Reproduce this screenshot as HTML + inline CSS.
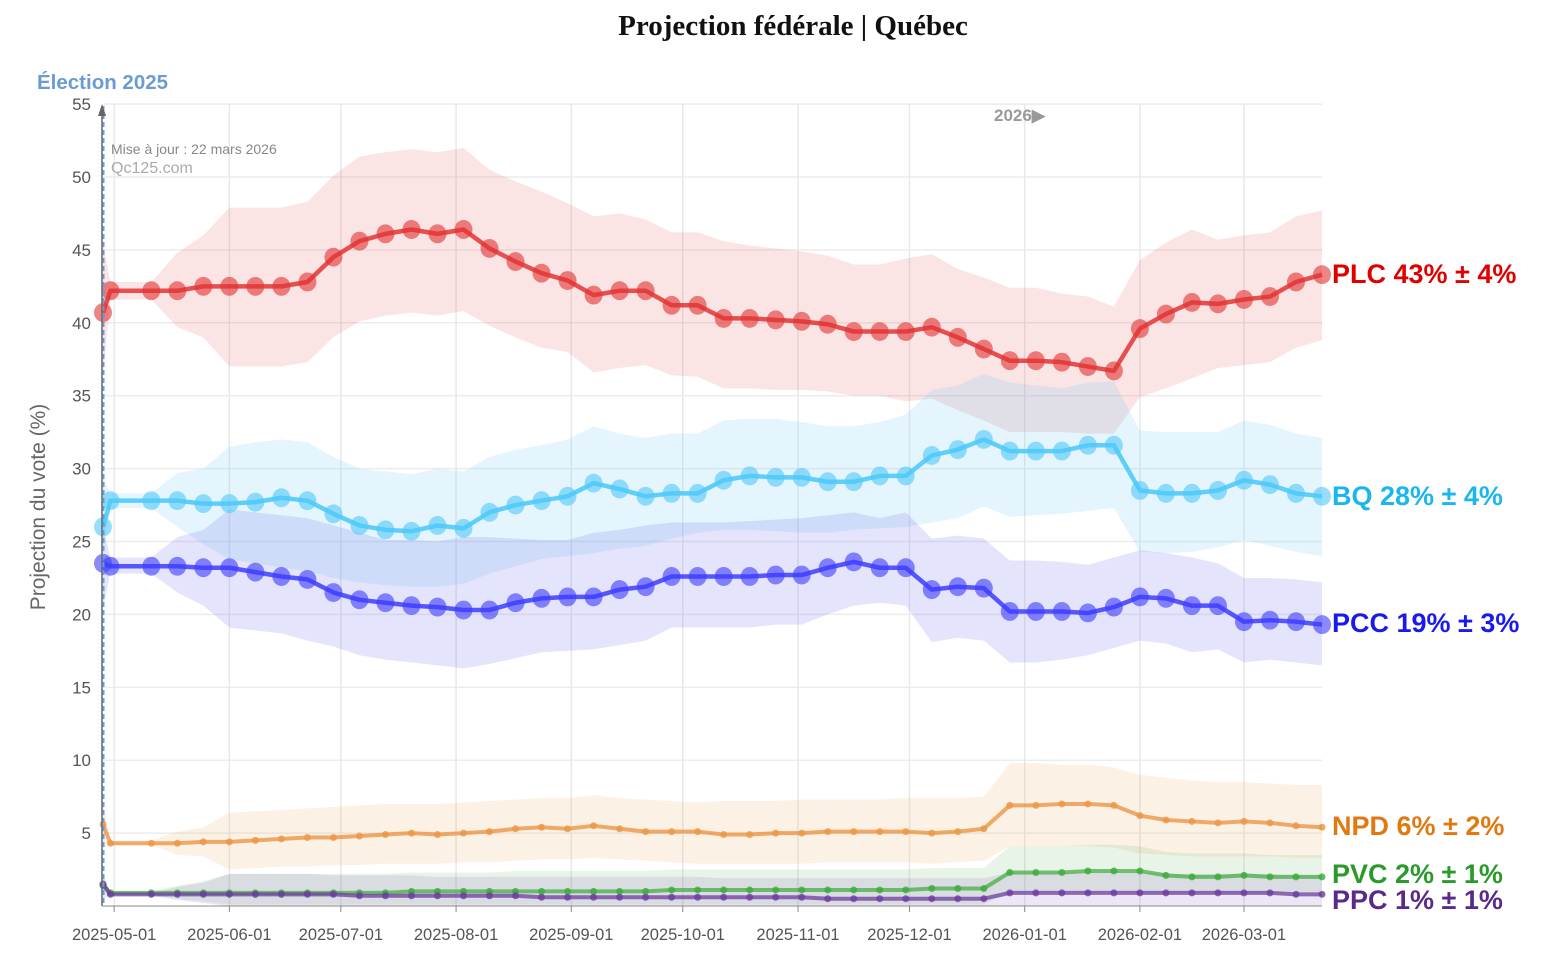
<!DOCTYPE html>
<html><head><meta charset="utf-8"><style>
body{margin:0;background:#fff;}
svg{display:block;font-family:"Liberation Sans",sans-serif;}
</style></head><body>
<svg id="chart" width="1541" height="958" viewBox="0 0 1541 958" xmlns="http://www.w3.org/2000/svg">
<text x="793" y="35" text-anchor="middle" font-family="Liberation Serif, serif" font-weight="bold" font-size="29" fill="#111">Projection fédérale | Québec</text>
<text x="37" y="89" font-weight="bold" font-size="20.5" fill="#6b9bd1">Élection 2025</text>
<g id="grid"></g>
<g id="bands"></g>
<g id="lines"></g>
<line x1="102" y1="108" x2="102" y2="906" stroke="#666" stroke-width="1.5"/>
<line x1="103.5" y1="106" x2="103.5" y2="906" stroke="#6b9bd1" stroke-width="2" stroke-dasharray="5,3"/>
<polygon points="98,116 102,104 106,116" fill="#666"/>
<line x1="102" y1="906" x2="1322" y2="906" stroke="#888" stroke-width="1"/>
<text x="994" y="121" font-weight="bold" font-size="17" fill="#999">2026▶</text>
<text x="111" y="154" font-size="14" fill="#888">Mise à jour : 22 mars 2026</text>
<text x="111" y="173" font-size="16" fill="#aaa">Qc125.com</text>
<text transform="translate(45,507) rotate(-90)" text-anchor="middle" font-size="21" fill="#666">Projection du vote (%)</text>
<g id="labels"></g>
</svg>
<script>
const days=[0,2,13,20,27,34,41,48,55,62,69,76,83,90,97,104,111,118,125,132,139,146,153,160,167,174,181,188,195,202,209,216,223,230,237,244,251,258,265,272,279,286,293,300,307,314,321,328];
const plc=[40.7,42.2,42.2,42.2,42.5,42.5,42.5,42.5,42.8,44.5,45.6,46.1,46.4,46.1,46.4,45.1,44.2,43.4,42.9,41.9,42.2,42.2,41.2,41.2,40.3,40.3,40.2,40.1,39.9,39.4,39.4,39.4,39.7,39.0,38.2,37.4,37.4,37.3,37.0,36.7,39.6,40.6,41.4,41.3,41.6,41.8,42.8,43.3];
const plcHi=[45.5,42.8,42.8,44.8,46.0,47.9,47.9,47.9,48.3,50.1,51.4,51.7,51.9,51.7,52.0,50.5,49.7,49.0,48.2,47.3,47.5,47.1,46.2,46.2,45.6,45.3,45.1,44.9,44.6,44.0,44.0,44.4,44.7,43.7,43.1,42.4,42.4,42.0,41.8,41.1,44.3,45.5,46.4,45.7,46.0,46.2,47.3,47.7];
const plcLo=[36.5,41.6,41.6,39.7,39.0,37.0,37.0,37.0,37.3,39.0,40.1,40.5,40.7,40.5,40.8,39.8,39.0,38.3,38.0,36.6,36.9,37.1,36.4,36.3,35.5,35.5,35.4,35.4,35.3,35.0,35.0,34.6,34.8,34.0,33.3,32.5,32.5,32.5,32.4,32.4,34.9,35.5,36.2,36.9,37.1,37.3,38.3,38.8];
const bq=[26.0,27.8,27.8,27.8,27.6,27.6,27.7,28.0,27.8,26.9,26.1,25.8,25.7,26.1,25.9,27.0,27.5,27.8,28.1,29.0,28.6,28.1,28.3,28.3,29.2,29.5,29.4,29.4,29.1,29.1,29.5,29.5,30.9,31.3,32.0,31.2,31.2,31.2,31.6,31.6,28.5,28.3,28.3,28.5,29.2,28.9,28.3,28.1];
const bqHi=[29.4,28.3,28.3,29.7,30.0,31.5,31.8,32.0,31.8,30.8,30.0,29.8,29.6,30.0,29.8,30.8,31.3,31.6,32.0,32.9,32.4,32.1,32.4,32.4,33.3,33.4,33.4,33.2,32.9,32.9,33.2,33.7,35.4,35.7,36.5,35.9,35.7,35.5,35.9,36.0,32.6,32.5,32.5,32.5,33.3,33.0,32.4,32.1];
const bqLo=[24.0,27.3,27.3,26.0,24.8,23.8,23.5,23.2,23.0,22.5,22.2,22.0,21.9,21.9,22.1,22.8,23.3,23.8,24.0,24.2,24.5,24.7,25.2,25.6,25.8,25.8,25.7,25.6,25.6,25.8,25.9,26.0,26.3,26.6,27.4,26.7,26.8,26.9,27.1,27.3,24.3,24.2,24.3,24.6,25.1,24.7,24.3,24.0];
const pcc=[23.5,23.3,23.3,23.3,23.2,23.2,22.9,22.6,22.4,21.5,21.0,20.8,20.6,20.5,20.3,20.3,20.8,21.1,21.2,21.2,21.7,21.9,22.6,22.6,22.6,22.6,22.7,22.7,23.2,23.6,23.2,23.2,21.7,21.9,21.8,20.2,20.2,20.2,20.1,20.5,21.2,21.1,20.6,20.6,19.5,19.6,19.5,19.3];
const pccHi=[26.0,23.9,23.9,25.3,25.8,27.2,27.0,26.8,26.6,26.1,25.6,25.1,25.1,25.0,25.3,25.3,25.2,25.1,25.1,25.6,25.8,26.1,26.3,26.3,26.3,26.4,26.5,26.6,26.8,27.0,26.6,27.0,25.2,25.4,25.2,23.7,23.7,23.6,23.4,23.9,24.4,24.2,23.9,23.5,22.5,22.5,22.4,22.2];
const pccLo=[20.5,22.8,22.8,21.5,20.6,19.1,18.9,18.7,18.2,17.8,17.2,16.9,16.7,16.5,16.3,16.6,17.0,17.4,17.5,17.6,17.9,18.2,19.1,19.1,19.1,19.1,19.3,19.3,20.0,20.6,20.8,20.6,18.1,18.4,18.2,16.7,16.7,16.9,17.2,17.7,18.2,18.0,17.4,17.6,16.7,16.9,16.7,16.5];
const npd=[5.6,4.3,4.3,4.3,4.4,4.4,4.5,4.6,4.7,4.7,4.8,4.9,5.0,4.9,5.0,5.1,5.3,5.4,5.3,5.5,5.3,5.1,5.1,5.1,4.9,4.9,5.0,5.0,5.1,5.1,5.1,5.1,5.0,5.1,5.3,6.9,6.9,7.0,7.0,6.9,6.2,5.9,5.8,5.7,5.8,5.7,5.5,5.4];
const npdHi=[7.0,4.5,4.5,5.1,5.4,6.4,6.5,6.6,6.7,6.8,6.9,7.0,7.0,7.0,7.1,7.2,7.3,7.4,7.4,7.6,7.4,7.3,7.2,7.1,7.2,7.2,7.2,7.3,7.3,7.3,7.3,7.4,7.4,7.4,7.5,9.8,9.8,9.7,9.7,9.5,9.0,8.8,8.6,8.5,8.5,8.4,8.3,8.3];
const npdLo=[4.0,4.2,4.2,3.5,3.4,2.5,2.6,2.7,2.7,2.8,2.8,2.9,2.9,2.9,3.0,3.0,3.1,3.2,3.2,3.3,3.2,3.1,3.0,2.9,2.9,2.9,2.9,2.9,3.0,3.0,3.0,3.0,2.9,3.0,3.1,4.1,4.1,4.1,4.1,4.0,3.6,3.5,3.4,3.4,3.4,3.4,3.3,3.3];
const pvc=[1.4,0.9,0.9,0.9,0.9,0.9,0.9,0.9,0.9,0.9,0.9,0.9,1.0,1.0,1.0,1.0,1.0,1.0,1.0,1.0,1.0,1.0,1.1,1.1,1.1,1.1,1.1,1.1,1.1,1.1,1.1,1.1,1.2,1.2,1.2,2.3,2.3,2.3,2.4,2.4,2.4,2.1,2.0,2.0,2.1,2.0,2.0,2.0];
const pvcHi=[2.0,1.0,1.0,1.4,1.7,2.2,2.2,2.2,2.2,2.2,2.2,2.2,2.3,2.3,2.3,2.3,2.4,2.4,2.4,2.4,2.4,2.4,2.5,2.5,2.5,2.5,2.5,2.5,2.5,2.5,2.5,2.5,2.6,2.6,2.6,4.1,4.1,4.1,4.2,4.2,4.1,3.7,3.6,3.6,3.6,3.5,3.5,3.5];
const pvcLo=[0.8,0.8,0.8,0.5,0.3,0.1,0.1,0.1,0.1,0.1,0.1,0.1,0.1,0.1,0.1,0.1,0.1,0.1,0.1,0.1,0.1,0.1,0.1,0.1,0.1,0.1,0.1,0.1,0.1,0.1,0.1,0.1,0.1,0.1,0.1,1.0,1.0,1.0,1.0,1.0,1.0,0.9,0.9,0.9,0.9,0.9,0.9,0.9];
const ppc=[1.5,0.8,0.8,0.8,0.8,0.8,0.8,0.8,0.8,0.8,0.7,0.7,0.7,0.7,0.7,0.7,0.7,0.6,0.6,0.6,0.6,0.6,0.6,0.6,0.6,0.6,0.6,0.6,0.5,0.5,0.5,0.5,0.5,0.5,0.5,0.9,0.9,0.9,0.9,0.9,0.9,0.9,0.9,0.9,0.9,0.9,0.8,0.8];
const ppcHi=[2.2,0.9,0.9,1.3,1.6,2.2,2.2,2.2,2.2,2.1,2.1,2.1,2.1,2.0,2.0,2.0,2.0,2.0,2.0,2.0,2.0,2.0,2.0,2.0,1.9,1.9,1.9,1.9,1.9,1.9,1.9,1.9,1.9,1.9,1.9,2.3,2.3,2.3,2.3,2.3,2.3,2.2,2.2,2.2,2.2,2.2,2.1,2.1];
const ppcLo=[0.5,0.7,0.7,0.4,0.2,0,0,0,0,0,0,0,0,0,0,0,0,0,0,0,0,0,0,0,0,0,0,0,0,0,0,0,0,0,0,0,0,0,0,0,0,0,0,0,0,0,0,0];
const yTicks=[5,10,15,20,25,30,35,40,45,50,55];
const xTickDays=[3,34,64,95,126,156,187,217,248,279,307];
const xTickLabels=["2025-05-01","2025-06-01","2025-07-01","2025-08-01","2025-09-01","2025-10-01","2025-11-01","2025-12-01","2026-01-01","2026-02-01","2026-03-01"];
const labelTexts=["PLC 43% ± 4%","BQ 28% ± 4%","PCC 19% ± 3%","NPD 6% ± 2%","PVC 2% ± 1%","PPC 1% ± 1%"];

const NS="http://www.w3.org/2000/svg";
const X=d=>103+d*3.7165;
const Y=v=>906-v*14.58;
function mk(tag,attrs,parent){const e=document.createElementNS(NS,tag);for(const k in attrs)e.setAttribute(k,attrs[k]);parent.appendChild(e);return e;}
const grid=document.getElementById('grid'),bands=document.getElementById('bands'),lines=document.getElementById('lines'),labels=document.getElementById('labels');
yTicks.forEach(t=>{
  const l=mk('line',{x1:103,x2:1322,y1:Y(t),y2:Y(t),stroke:'#ececec','stroke-width':1.5},grid);
  
  
  const tx=mk('text',{x:91,y:Y(t)+6,'text-anchor':'end','font-size':17,fill:'#555'},grid);
  tx.textContent=t;
  
  
});
xTickDays.forEach((d,i)=>{
  const l=mk('line',{x1:X(d),x2:X(d),y1:104,y2:906,stroke:'#e8e8e8','stroke-width':1.5},grid);
  
  
  const tk=mk('line',{x1:X(d),x2:X(d),y1:906,y2:912,stroke:'#888'},grid);
  
  
  const tx=mk('text',{x:X(d),y:940,'text-anchor':'middle','font-size':16.5,fill:'#555'},grid);
  tx.textContent=xTickLabels[i];
  
  
});
const series=[
 {n:'plc',v:plc,hi:plcHi,lo:plcLo,band:'rgb(230,90,90)',bo:0.16,line:'rgba(226,40,40,0.8)',dot:'rgba(226,50,50,0.6)',r:9,w:4.5,c:'#e00000'},
 {n:'bq',v:bq,hi:bqHi,lo:bqLo,band:'rgb(110,200,245)',bo:0.19,line:'rgba(70,200,250,0.85)',dot:'rgba(80,200,250,0.6)',r:9,w:4.5,c:'#1ab6f0'},
 {n:'pcc',v:pcc,hi:pccHi,lo:pccLo,band:'rgb(110,110,240)',bo:0.19,line:'rgba(50,50,255,0.8)',dot:'rgba(60,60,255,0.6)',r:9,w:4.5,c:'#1a1aee'},
 {n:'npd',v:npd,hi:npdHi,lo:npdLo,band:'rgb(240,170,100)',bo:0.17,line:'rgba(235,150,70,0.8)',dot:'rgba(235,150,70,0.8)',r:3.5,w:4,c:'#e07a10'},
 {n:'pvc',v:pvc,hi:pvcHi,lo:pvcLo,band:'rgb(90,180,90)',bo:0.14,line:'rgba(60,170,60,0.7)',dot:'rgba(60,170,60,0.8)',r:3.5,w:4,c:'#2a9a2a'},
 {n:'ppc',v:ppc,hi:ppcHi,lo:ppcLo,band:'rgb(130,80,180)',bo:0.14,line:'rgba(110,60,160,0.75)',dot:'rgba(110,60,160,0.8)',r:3.5,w:4,c:'#5a2a8a'}
];
const labelY=[283,505,632,835,883,909];
series.forEach((s,si)=>{
  const up=days.map((d,i)=>X(d)+','+Y(s.hi[i]));
  const dn=days.map((d,i)=>X(d)+','+Y(s.lo[i])).reverse();
  const b=mk('polygon',{points:up.concat(dn).join(' '),fill:s.band,'fill-opacity':s.bo},bands);
  
  
});
series.forEach((s,si)=>{
  const pl=mk('polyline',{points:days.map((d,i)=>X(d)+','+Y(s.v[i])).join(' '),fill:'none',stroke:s.line,'stroke-width':s.w,'stroke-linejoin':'round'},lines);
  
  
  days.forEach((d,i)=>{
    const c=mk('ellipse',{cx:X(d),cy:Y(s.v[i]),rx:s.r,ry:s.r*(s.r>5?1.05:1),fill:s.dot},lines);
    
    
  });
  const t=mk('text',{x:1332,y:labelY[si],'font-size':27,'font-weight':'bold',fill:s.c},labels);
  t.textContent=labelTexts[si];
  
  
});
</script>
</body></html>
